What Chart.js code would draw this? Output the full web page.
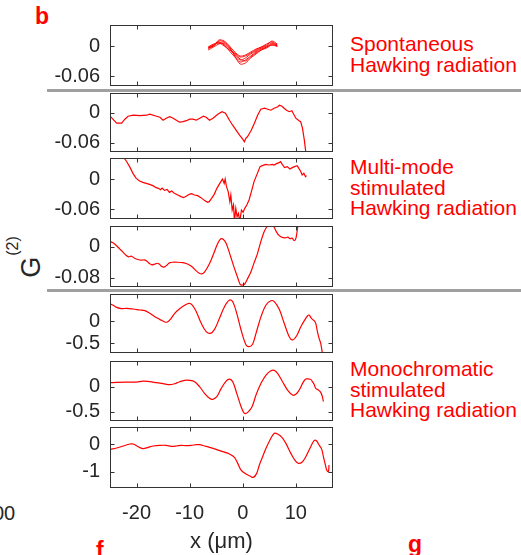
<!DOCTYPE html>
<html>
<head>
<meta charset="utf-8">
<script src="https://cdn.jsdelivr.net/npm/chart.js@4.4.1/dist/chart.umd.min.js"></script>
<style>
  html, body { margin: 0; padding: 0; background: #fff; }
  #fig { position: relative; width: 521px; height: 555px; overflow: hidden; background: #fff;
         font-family: "Liberation Sans", Arial, Helvetica, sans-serif; }
  .panel { position: absolute; left: 0; }
  .txt { position: absolute; white-space: nowrap; }
  .lbl { left: 350px; font-size: 21px; line-height: 20.5px; color: #ff0000; }
  .tag { font-weight: bold; font-size: 23px; line-height: 23px; color: #ff0000; }
  .sep { position: absolute; left: 47px; width: 474px; height: 3px; background: #a0a0a0; }
  #ylab { left: 33px; top: 257px; font-size: 27px; line-height: 26px; color: #262626;
          transform: translate(-50%, -50%) rotate(-90deg); }
  #ylab span { font-size: 16px; position: relative; top: -22px; margin-left: 1px; }
</style>
</head>
<body>
<div id="fig">
  <div class="txt tag" style="left:35px;top:5px;">b</div>
  <div class="sep" style="top:89px;"></div>
  <div class="sep" style="top:289px;"></div>
  <div class="txt lbl" style="top:34px;">Spontaneous<br>Hawking radiation</div>
  <div class="txt lbl" style="top:157px;">Multi-mode<br>stimulated<br>Hawking radiation</div>
  <div class="txt lbl" style="top:359px;">Monochromatic<br>stimulated<br>Hawking radiation</div>
  <div class="txt" id="ylab">G<span>(2)</span></div>
  <div class="txt" style="left:-7px;top:501px;font-size:20px;line-height:24px;color:#262626;">00</div>
  <div class="txt tag" style="left:96px;top:539px;">f</div>
  <div class="txt tag" style="left:408px;top:533px;">g</div>
</div>
<script>
// ---- shared x axis ----
const X_MIN = -25, X_MAX = 17;
const X_TICKS = [-20, -10, 0, 10];

// ---- spontaneous: several repeated correlation traces ----
const SPONT_X = [-6.5, -5.5, -4.5, -3.5, -2.5, -1.5, -0.5, 0.5, 1.5, 2.5, 3.5, 4.5, 5.5, 6.5];
const SPONT_A = [-0.004, 0.000, 0.012, 0.010, 0.000, -0.012, -0.020, -0.018, -0.012, -0.006, -0.002, 0.004, 0.008, 0.002];
const SPONT_B = [-0.006, 0.002, 0.006, 0.004, -0.006, -0.018, -0.028, -0.024, -0.016, -0.010, -0.004, 0.000, 0.006, 0.000];
const SPONT_C = [-0.002, 0.002, 0.008, 0.002, -0.010, -0.022, -0.032, -0.028, -0.020, -0.012, -0.006, -0.002, 0.004, 0.002];
const SPONT_D = [-0.008, -0.002, 0.004, 0.006, -0.004, -0.016, -0.026, -0.030, -0.022, -0.014, -0.008, -0.002, 0.002, -0.001];
const SPONT_E = [-0.004, 0.000, 0.010, 0.008, -0.002, -0.020, -0.036, -0.034, -0.024, -0.016, -0.008, -0.004, 0.002, 0.000];
const SPONT_F = [-0.002, 0.004, 0.006, 0.000, -0.008, -0.014, -0.022, -0.020, -0.014, -0.008, -0.002, 0.002, 0.010, 0.004];

// ---- multi-mode stimulated, run 1 ----
const MM1_X = [-24.9, -23.75, -22.8, -22.2, -21.6, -20.6, -19.4, -18.1, -17.5, -16.25, -15.6, -15, -14.4, -13.75, -13.1,
  -12.5, -11.9, -11.25, -10.6, -10, -9.4, -8.75, -8.1, -7.4, -6.9, -6.25, -5.6, -4.7, -3.9, -3.25, -2.5, -1.9, -1.25,
  -0.6, 0, 0.3, 0.6, 0.9, 1.6, 2.2, 2.8, 3.4, 4.1, 4.7, 5.3, 5.9, 6.6, 6.9, 7.4, 7.8, 8.25, 8.75, 9.25, 9.5, 10,
  10.6, 10.9, 11.25, 11.6, 11.9];
const MM1_Y = [-0.008, -0.021, -0.021, -0.013, -0.007, -0.005, -0.006, -0.005, -0.003, -0.007, -0.009, -0.015, -0.011,
  -0.008, -0.011, -0.015, -0.019, -0.018, -0.016, -0.013, -0.013, -0.015, -0.011, -0.007, -0.009, -0.015, -0.011,
  -0.003, 0.002, -0.001, -0.015, -0.025, -0.035, -0.045, -0.053, -0.058, -0.051, -0.048, -0.035, -0.021, -0.005,
  0.007, 0.009, 0.007, 0.005, 0.009, 0.012, 0.015, 0.013, 0.009, 0.005, 0.002, 0.004, -0.001, -0.011, -0.016,
  -0.018, -0.031, -0.055, -0.081];

// ---- multi-mode stimulated, run 2 ----
const MM2_X = [-22.56, -21.93, -21.31, -20.68, -20.06, -19.43, -18.81, -18.18, -17.56, -16.93, -16.31, -15.87, -15.49,
  -15.18, -14.74, -14.24, -13.81, -13.37, -12.87, -12.24, -11.62, -11.12, -10.68, -10.06, -9.62, -9.12, -8.49, -7.87,
  -7.24, -6.62, -6.31, -5.87, -5.37, -4.87, -4.43, -4.12, -3.81, -3.49, -3.31, -3.06, -2.74, -2.43, -2.24, -1.99,
  -1.74, -1.56, -1.31, -1.06, -0.81, -0.56, -0.24, 0.07, 0.38, 0.76, 1.19, 1.63, 2.13, 2.76, 3.26, 3.69, 4.32, 4.94,
  5.57, 5.88, 6.38, 6.82, 7.13, 7.44, 7.88, 8.38, 8.88, 9.32, 9.76, 10.26, 10.57, 10.88, 11.19, 11.51, 11.82, 12.01];
const MM2_Y = [0.0447, 0.036, 0.0247, 0.0113, 0.0013, -0.004, -0.0067, -0.0087, -0.0107, -0.0133, -0.0173, -0.0187,
  -0.0213, -0.018, -0.0227, -0.0207, -0.0267, -0.024, -0.0287, -0.032, -0.0353, -0.0373, -0.0347, -0.0307, -0.0293,
  -0.032, -0.0333, -0.0373, -0.0427, -0.0467, -0.0453, -0.0387, -0.0307, -0.0187, -0.0107, -0.0053, 0, -0.0087, 0,
  -0.0153, -0.0253, -0.0453, -0.032, -0.062, -0.052, -0.085, -0.0587, -0.0753, -0.0687, -0.085, -0.062, -0.0667,
  -0.0587, -0.052, -0.042, -0.0253, -0.0053, 0.0113, 0.0247, 0.0267, 0.0293, 0.028, 0.0293, 0.028, 0.0307, 0.0327,
  0.0347, 0.0293, 0.0227, 0.0247, 0.02, 0.0227, 0.0247, 0.0267, 0.0213, 0.016, 0.008, 0.0113, 0.0047, 0.0067];

// ---- multi-mode stimulated, run 3 ----
const MM3_X = [-25.18, -24.43, -23.81, -23.18, -22.56, -21.93, -21.49, -20.99, -20.37, -19.74, -19.12, -18.49, -17.99,
  -17.56, -17.12, -16.62, -16.12, -15.68, -15.24, -14.74, -14.24, -13.81, -13.18, -12.24, -11.31, -10.68, -10.06,
  -9.43, -8.81, -8.18, -7.74, -7.24, -6.62, -5.99, -5.37, -4.74, -4.12, -3.62, -3.18, -2.74, -2.24, -1.74, -1.31,
  -0.87, -0.49, -0.06, 0.38, 0.88, 1.51, 2.13, 2.76, 3.38, 4.01, 4.51, 4.94, 5.38, 5.88, 6.38, 6.82, 7.44, 8.07,
  8.51, 8.88, 9.32, 9.63, 9.94, 10.13, 10.38, 10.57];
const MM3_Y = [0.0146, 0.0103, 0.0034, -0.0052, -0.0138, -0.0224, -0.0258, -0.0241, -0.0292, -0.0327, -0.0344, -0.0335,
  -0.0378, -0.043, -0.0465, -0.0447, -0.0422, -0.0447, -0.0508, -0.0516, -0.0465, -0.0413, -0.0396, -0.0396, -0.0404,
  -0.043, -0.0465, -0.0525, -0.0611, -0.068, -0.0697, -0.0654, -0.0525, -0.0353, -0.0138, 0.0077, 0.0206, 0.0189,
  0.0103, -0.0052, -0.0267, -0.0482, -0.0654, -0.0826, -0.0963, -0.0981, -0.0955, -0.0826, -0.0654, -0.0413, -0.0181,
  0.012, 0.0378, 0.0508, 0.058, 0.058, 0.0508, 0.0378, 0.0292, 0.0241, 0.0232, 0.0249, 0.0206, 0.0224, 0.0163,
  0.0189, 0.0292, 0.0533, 0.0637];

// ---- monochromatic stimulated, run 1 ----
const MONO1_X = [-24.88, -24.38, -23.75, -22.81, -21.88, -20.63, -19.38, -18.44, -17.5, -16.56, -15.63, -14.69, -14.19,
  -13.63, -12.81, -11.88, -10.94, -10.13, -9.5, -8.75, -7.81, -6.88, -6.06, -5.31, -4.38, -3.44, -2.5, -1.88, -1.13,
  -0.31, 0.63, 1.25, 1.88, 2.5, 3.44, 4.38, 5.31, 5.94, 6.88, 7.81, 8.75, 9.38, 10.13, 10.94, 11.75, 12.19, 12.5,
  12.81, 13.13, 13.44, 13.75, 14.06, 14.38, 14.69, 15];
const MONO1_Y = [0.381, 0.351, 0.306, 0.276, 0.284, 0.269, 0.246, 0.231, 0.172, 0.097, 0.037, -0.022, -0.022, 0.037,
  0.172, 0.276, 0.351, 0.396, 0.358, 0.209, -0.052, -0.239, -0.276, -0.187, 0.06, 0.321, 0.47, 0.433, 0.172, -0.201,
  -0.537, -0.575, -0.515, -0.276, 0.097, 0.358, 0.455, 0.433, 0.261, -0.052, -0.351, -0.425, -0.336, -0.127, 0.037,
  0.112, 0.134, 0.082, 0.037, 0.007, -0.052, -0.239, -0.388, -0.5, -0.724];

// ---- monochromatic stimulated, run 2 ----
const MONO2_X = [-24.88, -23.75, -21.88, -20, -18.75, -17.5, -16.25, -15, -13.75, -12.81, -11.88, -10.94, -10, -9.06,
  -8.13, -7.19, -6.25, -5.63, -4.88, -4.06, -3.13, -2.5, -1.88, -1.13, -0.31, 0.31, 0.94, 1.75, 2.5, 3.44, 4.38,
  5.31, 5.94, 6.56, 7.5, 8.44, 9.38, 10, 10.63, 11.38, 11.88, 12.5, 12.81, 13.13, 13.44, 13.75, 14.25, 14.69, 15,
  15.19];
const MONO2_Y = [0.08, 0.087, 0.093, 0.093, 0.113, 0.1, 0.08, 0.06, 0.04, 0.06, 0.1, 0.127, 0.127, 0.1, 0, -0.133,
  -0.233, -0.253, -0.2, -0.033, 0.113, 0.153, 0.1, -0.133, -0.4, -0.533, -0.513, -0.4, -0.167, 0.067, 0.233, 0.32,
  0.327, 0.267, 0.1, -0.067, -0.167, -0.153, -0.067, 0.087, 0.153, 0.153, 0.147, 0.1, 0.047, -0.033, -0.067, -0.113,
  -0.2, -0.3];

// ---- monochromatic stimulated, run 3 ----
const MONO3_X = [-24.88, -23.75, -22.5, -21.25, -20.63, -19.69, -18.75, -17.81, -16.88, -15.63, -14.38, -13.44, -12.5,
  -11.56, -10.63, -9.69, -8.75, -8.13, -7.19, -6.25, -5, -3.75, -2.5, -1.56, -0.94, -0.31, 0.63, 1.38, 2, 2.63, 3.13,
  3.75, 4.38, 5.13, 5.94, 6.56, 7.38, 8.13, 9.06, 9.88, 10.5, 11.25, 11.88, 12.81, 13.44, 13.88, 14.38, 14.88, 15.19,
  15.5, 15.81, 16.13, 16.25];
const MONO3_Y = [-0.193, -0.145, -0.072, 0, 0, -0.096, -0.169, -0.12, -0.072, -0.048, -0.048, -0.084, -0.072, -0.048,
  -0.06, -0.048, -0.024, -0.024, -0.072, -0.12, -0.193, -0.277, -0.361, -0.482, -0.699, -0.94, -1.084, -1.157, -1.205,
  -1.06, -0.759, -0.458, -0.157, 0.145, 0.386, 0.361, 0.241, 0.024, -0.337, -0.602, -0.699, -0.639, -0.458, -0.096,
  0.12, 0.12, -0.036, -0.193, -0.458, -0.699, -0.94, -1.0, -0.759];

// ---- per-panel y limits and y tick values ----
const Y_LIMITS = [[-0.08, 0.042], [-0.0786, 0.0394], [-0.08, 0.042], [-0.1032, 0.0534],
                  [-0.717, 0.605], [-0.686, 0.514], [-1.588, 0.614]];
const Y_TICKS = [[0, -0.06], [0, -0.06], [0, -0.06], [0, -0.08], [0, -0.5], [0, -0.5], [0, -1]];

// ---- layout (pixel geometry of each panel's plot box) ----
const BOXES = [{ top: 25, h: 61 }, { top: 93, h: 59 }, { top: 158, h: 61 }, { top: 226, h: 61 },
               { top: 294, h: 59 }, { top: 361, h: 60 }, { top: 427, h: 61 }];
const PLOT_LEFT = 110, PLOT_RIGHT = 333, PAD = 24, X_AXIS_H = 67;
const AXIS_COLOR = '#333333', TEXT_COLOR = '#262626', LINE_RED = '#ff0000';
const FONT = '"Liberation Sans", Arial, Helvetica, sans-serif';

function pts(xs, ys) { return xs.map((x, i) => ({ x: x, y: ys[i] })); }

// Box around the plot area with MATLAB-style inward tick marks on all four sides.
const framePlugin = {
  id: 'frame',
  afterDatasetsDraw(chart) {
    const { ctx, chartArea: a, scales } = chart;
    const L = Math.round(a.left) + 0.5, R = Math.round(a.right) - 0.5;
    const T = Math.round(a.top) + 0.5, B = Math.round(a.bottom) - 0.5;
    const len = 4;
    ctx.save();
    ctx.strokeStyle = AXIS_COLOR;
    ctx.lineWidth = 1;
    ctx.beginPath();
    X_TICKS.forEach(v => {
      const p = Math.round(scales.x.getPixelForValue(v)) + 0.5;
      ctx.moveTo(p, T); ctx.lineTo(p, T + len);
      ctx.moveTo(p, B); ctx.lineTo(p, B - len);
    });
    scales.y.ticks.forEach(t => {
      const p = Math.round(scales.y.getPixelForValue(t.value)) + 0.5;
      ctx.moveTo(L, p); ctx.lineTo(L + len, p);
      ctx.moveTo(R, p); ctx.lineTo(R - len, p);
    });
    ctx.stroke();
    ctx.strokeRect(L, T, R - L, B - T);
    ctx.restore();
  }
};

function makePanel(idx, datasets, showX) {
  const box = BOXES[idx];
  const fig = document.getElementById('fig');
  const wrap = document.createElement('div');
  wrap.className = 'panel';
  wrap.style.top = (box.top - PAD) + 'px';
  const cv = document.createElement('canvas');
  const W = PLOT_RIGHT + 8;
  const H = box.h + PAD + (showX ? X_AXIS_H : PAD);
  cv.width = W; cv.height = H;
  cv.style.width = W + 'px'; cv.style.height = H + 'px';
  wrap.appendChild(cv);
  fig.appendChild(wrap);

  const yTicks = Y_TICKS[idx];
  new Chart(cv, {
    type: 'line',
    data: {
      datasets: datasets.map(d => ({
        data: d.data,
        borderColor: LINE_RED,
        borderWidth: d.width || 1.2,
        pointRadius: 0,
        fill: false,
        tension: d.tension || 0
      }))
    },
    options: {
      responsive: false,
      animation: false,
      devicePixelRatio: 1,
      events: [],
      layout: { padding: { top: PAD, bottom: showX ? 0 : PAD, left: 0, right: W - PLOT_RIGHT } },
      plugins: { legend: { display: false }, tooltip: { enabled: false } },
      scales: {
        x: {
          type: 'linear',
          min: X_MIN, max: X_MAX,
          display: showX,
          grid: { display: false, drawTicks: false },
          border: { display: false },
          afterBuildTicks: s => { s.ticks = X_TICKS.map(v => ({ value: v })); },
          afterFit: s => { s.height = showX ? X_AXIS_H : 0; },
          ticks: {
            padding: 13, maxRotation: 0, autoSkip: false,
            color: TEXT_COLOR, font: { family: FONT, size: 20 },
            callback: v => String(v)
          },
          title: {
            display: true, text: 'x (\u03bcm)', color: TEXT_COLOR,
            font: { family: FONT, size: 22 }, padding: { top: 0, bottom: 0 }
          }
        },
        y: {
          type: 'linear',
          min: Y_LIMITS[idx][0], max: Y_LIMITS[idx][1],
          grid: { display: false, drawTicks: false },
          border: { display: false },
          afterBuildTicks: s => { s.ticks = yTicks.map(v => ({ value: v })); },
          afterFit: s => { s.width = PLOT_LEFT; },
          ticks: {
            padding: 10, autoSkip: false,
            color: TEXT_COLOR, font: { family: FONT, size: 20 },
            callback: v => String(v)
          }
        }
      }
    },
    plugins: [framePlugin]
  });
}

makePanel(0, [SPONT_A, SPONT_B, SPONT_C, SPONT_D, SPONT_E, SPONT_F].map(ys =>
  ({ data: pts(SPONT_X, ys), width: 0.9, tension: 0.3 })), false);
makePanel(1, [{ data: pts(MM1_X, MM1_Y) }], false);
makePanel(2, [{ data: pts(MM2_X, MM2_Y) }], false);
makePanel(3, [{ data: pts(MM3_X, MM3_Y), tension: 0.25 }], false);
makePanel(4, [{ data: pts(MONO1_X, MONO1_Y), tension: 0.35 }], false);
makePanel(5, [{ data: pts(MONO2_X, MONO2_Y), tension: 0.35 }], false);
makePanel(6, [{ data: pts(MONO3_X, MONO3_Y), tension: 0.35 }], true);
</script>
</body>
</html>
